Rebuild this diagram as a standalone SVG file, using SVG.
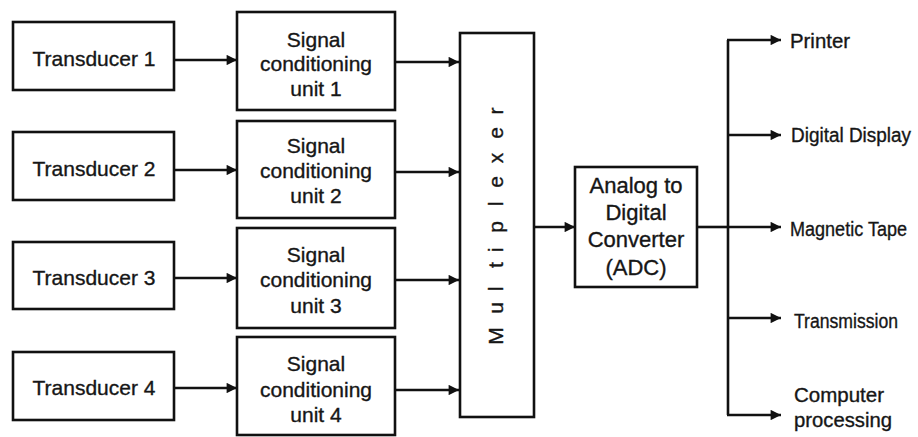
<svg xmlns="http://www.w3.org/2000/svg" width="918" height="437" viewBox="0 0 918 437">
<defs>
<marker id="ah" viewBox="0 0 10 10" refX="10" refY="5" markerWidth="4.6" markerHeight="4" markerUnits="strokeWidth" orient="auto">
<path d="M0,0 L10,5 L0,10 Z" fill="#111"/>
</marker>
</defs>
<style>
.box{fill:#fff;stroke:#111;stroke-width:2.6}
.ln{fill:none;stroke:#111;stroke-width:2.6}
.ar{fill:none;stroke:#111;stroke-width:2.6;marker-end:url(#ah)}
text{font-family:"Liberation Sans",Arial,sans-serif;fill:#161616;stroke:#161616;stroke-width:0.35}
.t{font-size:21px;text-anchor:middle}
.a{font-size:22px;text-anchor:middle}
.o{font-size:20px}
.m{font-size:21px;text-anchor:middle}
</style>
<rect width="918" height="437" fill="#fff"/>

<g id="transducer1"><rect class="box" x="13" y="22" width="161" height="68"/><text class="t" x="94" y="66">Transducer 1</text></g>
<g id="transducer2"><rect class="box" x="13" y="132" width="161" height="68"/><text class="t" x="94" y="176">Transducer 2</text></g>
<g id="transducer3"><rect class="box" x="13" y="242" width="161" height="67"/><text class="t" x="94" y="285">Transducer 3</text></g>
<g id="transducer4"><rect class="box" x="13" y="352" width="161" height="68"/><text class="t" x="94" y="395">Transducer 4</text></g>

<g id="scu1"><rect class="box" x="237" y="12" width="158" height="98"/><text class="t" x="316" y="47">Signal</text><text class="t" x="316" y="71">conditioning</text><text class="t" x="316" y="96">unit 1</text></g>
<g id="scu2"><rect class="box" x="237" y="121" width="158" height="97"/><text class="t" x="316" y="153">Signal</text><text class="t" x="316" y="178">conditioning</text><text class="t" x="316" y="203">unit 2</text></g>
<g id="scu3"><rect class="box" x="237" y="228" width="158" height="100"/><text class="t" x="316" y="262">Signal</text><text class="t" x="316" y="287">conditioning</text><text class="t" x="316" y="313">unit 3</text></g>
<g id="scu4"><rect class="box" x="237" y="337" width="158" height="98"/><text class="t" x="316" y="371">Signal</text><text class="t" x="316" y="397">conditioning</text><text class="t" x="316" y="422">unit 4</text></g>

<g id="multiplexer"><rect class="box" x="460" y="33" width="74" height="384"/>
<text class="m" transform="translate(503,0) rotate(-90)" x="-336 -308 -289 -265 -250 -227 -204 -182 -158 -133 -111" y="0">Multiplexer</text></g>

<g id="adc"><rect class="box" x="575" y="167" width="122" height="120"/>
<text class="a" x="636" y="193">Analog to</text><text class="a" x="636" y="220">Digital</text><text class="a" x="636" y="247">Converter</text><text class="a" x="636" y="275">(ADC)</text></g>

<g id="outputs">
<text class="o" x="790" y="48" textLength="60" lengthAdjust="spacingAndGlyphs">Printer</text>
<text class="o" x="791" y="142" textLength="120" lengthAdjust="spacingAndGlyphs">Digital Display</text>
<text class="o" x="790" y="236" textLength="117" lengthAdjust="spacingAndGlyphs">Magnetic Tape</text>
<text class="o" x="794" y="328" textLength="104" lengthAdjust="spacingAndGlyphs">Transmission</text>
<text class="o" x="794" y="402" textLength="90" lengthAdjust="spacingAndGlyphs">Computer</text>
<text class="o" x="794" y="427" textLength="98" lengthAdjust="spacingAndGlyphs">processing</text>
</g>

<g id="connectors">
<line class="ar" x1="174" y1="60" x2="237" y2="60"/>
<line class="ar" x1="174" y1="170" x2="237" y2="170"/>
<line class="ar" x1="174" y1="278" x2="237" y2="278"/>
<line class="ar" x1="174" y1="388" x2="237" y2="388"/>
<line class="ar" x1="395" y1="62" x2="459" y2="62"/>
<line class="ar" x1="395" y1="172" x2="459" y2="172"/>
<line class="ar" x1="395" y1="280" x2="459" y2="280"/>
<line class="ar" x1="395" y1="390" x2="459" y2="390"/>
<line class="ar" x1="534" y1="227" x2="575" y2="227"/>
<line class="ln" x1="697" y1="227" x2="728" y2="227"/>
<line class="ln" x1="728" y1="40" x2="728" y2="415"/>
<line class="ar" x1="727" y1="40" x2="781" y2="40"/>
<line class="ar" x1="728" y1="135" x2="781" y2="135"/>
<line class="ar" x1="728" y1="227" x2="781" y2="227"/>
<line class="ar" x1="728" y1="318" x2="781" y2="318"/>
<line class="ar" x1="727" y1="415" x2="781" y2="415"/>
</g>
</svg>
